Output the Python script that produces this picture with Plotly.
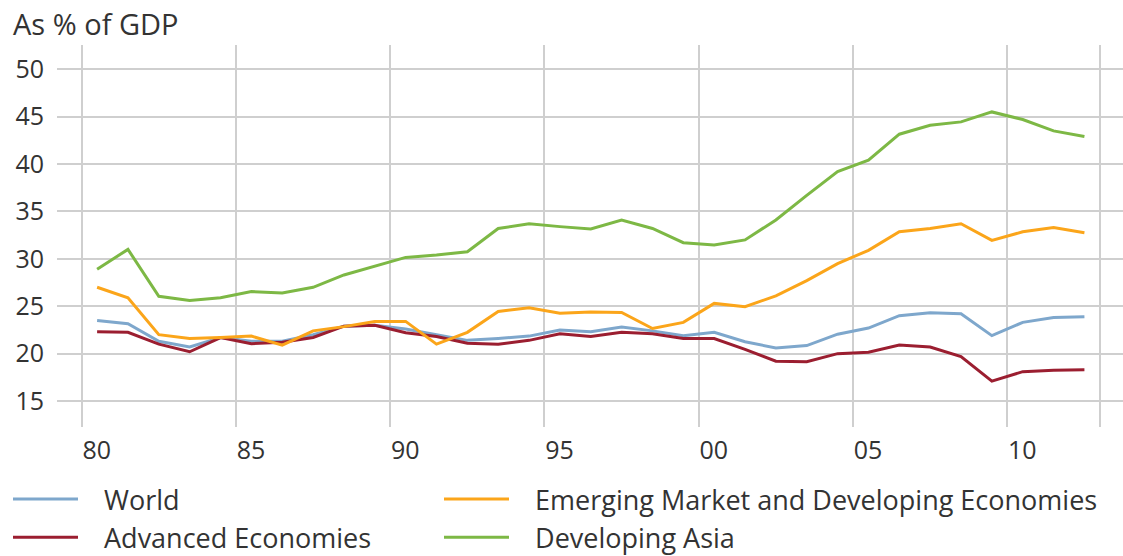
import plotly.graph_objects as go

years = list(range(1980, 2013))
world = [23.5, 23.15, 21.3, 20.7, 21.7, 21.3, 21.3, 22.0, 22.9, 23.0,
         22.6, 22.0, 21.4, 21.6, 21.85, 22.5, 22.3, 22.8, 22.4, 21.9,
         22.25, 21.25, 20.6, 20.85, 22.05, 22.7, 24.0, 24.3, 24.2, 21.9,
         23.3, 23.8, 23.9]
advanced = [22.3, 22.25, 21.0, 20.2, 21.7, 21.05, 21.2, 21.7, 22.9, 23.0,
            22.2, 21.8, 21.1, 21.0, 21.4, 22.1, 21.8, 22.25, 22.1, 21.6,
            21.6, 20.45, 19.2, 19.15, 20.0, 20.15, 20.9, 20.7, 19.7, 17.1,
            18.1, 18.25, 18.3]
emde = [27.0, 25.9, 22.0, 21.6, 21.7, 21.85, 20.9, 22.4, 22.85, 23.4,
        23.4, 21.0, 22.25, 24.45, 24.85, 24.25, 24.4, 24.35, 22.65, 23.3,
        25.3, 24.95, 26.1, 27.7, 29.5, 30.9, 32.85, 33.2, 33.7, 31.95,
        32.85, 33.3, 32.75]
asia = [28.9, 31.0, 26.05, 25.6, 25.9, 26.55, 26.4, 27.0, 28.3, 29.25,
        30.15, 30.4, 30.75, 33.2, 33.7, 33.4, 33.15, 34.1, 33.2, 31.7,
        31.45, 32.0, 34.1, 36.7, 39.2, 40.4, 43.15, 44.1, 44.45, 45.5,
        44.7, 43.5, 42.9]

x_tickvals = [1980, 1985, 1990, 1995, 2000, 2005, 2010, 2013]
x_ticktext = ["80", "85", "90", "95", "00", "05", "10", ""]
y_tickvals = [15, 20, 25, 30, 35, 40, 45, 50]

# annual values plotted at mid-year
xs = [y + 0.5 for y in years]

FONT = "Open Sans"
TXT = "#333333"
PAD = "\u00a0\u00a0\u00a0"

series = [
    ("World", world, "#7ea7cc", "legend", "g1"),
    ("Advanced Economies", advanced, "#9b1e30", "legend", "g2"),
    ("Emerging Market and Developing Economies", emde, "#fba51a", "legend2", "g3"),
    ("Developing Asia", asia, "#7db845", "legend2", "g4"),
]

fig = go.Figure()
for name, vals, col, leg, grp in series:
    fig.add_trace(go.Scatter(
        x=xs, y=vals, mode="lines", name=PAD + name,
        line=dict(color=col, width=3),
        legend=leg, legendgroup=grp,
    ))

legend_common = dict(
    orientation="v", xref="container", yref="container",
    xanchor="left", yanchor="top",
    font=dict(family=FONT, size=27, color=TXT),
    bgcolor="rgba(0,0,0,0)", tracegroupgap=3, itemwidth=65,
    traceorder="normal",
)

fig.update_layout(
    width=1123, height=556,
    margin=dict(l=57, r=0, t=45, b=129, autoexpand=False),
    paper_bgcolor="white", plot_bgcolor="white",
    showlegend=True,
    legend=dict(x=8 / 1123, y=1 - 475 / 556, **legend_common),
    legend2=dict(x=439 / 1123, y=1 - 475 / 556, **legend_common),
    title=dict(text="As % of GDP", xref="container", yref="container",
               x=13 / 1123, y=1 - 25 / 556, xanchor="left", yanchor="middle",
               font=dict(family=FONT, size=29, color=TXT)),
    xaxis=dict(range=[1979.2, 2013.75], tickvals=x_tickvals, ticktext=x_ticktext,
               showgrid=True, gridcolor="#cfcfcf", gridwidth=1.5,
               zeroline=False, showline=False, ticks="",
               ticklabelshift=15, ticklabelstandoff=6,
               tickfont=dict(family=FONT, size=25, color=TXT)),
    yaxis=dict(range=[12.26, 52.56], tickvals=y_tickvals,
               showgrid=True, gridcolor="#cfcfcf", gridwidth=1.5,
               zeroline=False, showline=False, ticks="",
               ticklabelstandoff=12,
               tickfont=dict(family=FONT, size=25, color=TXT)),
)

fig.write_html("out.html", config={"displayModeBar": False},
               post_script="document.body.style.margin='0';")
